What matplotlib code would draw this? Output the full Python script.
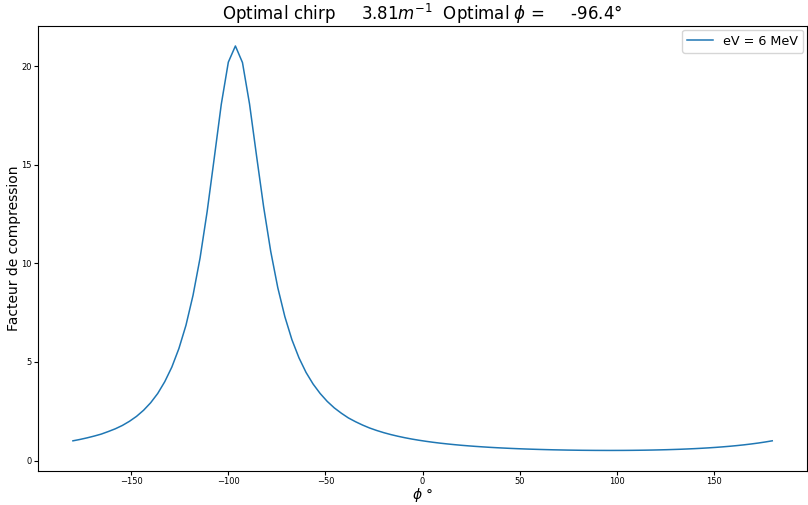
import numpy as np
import matplotlib
matplotlib.use('Agg')
import matplotlib.pyplot as plt

# phase grid (100 points from -180 to 180 deg)
phi = np.linspace(-180, 180, 100)

# compression factor
compression = [
    1.00, 1.07, 1.15, 1.24, 1.34, 1.47, 1.61, 1.78, 1.99, 2.24,
    2.55, 2.93, 3.40, 4.00, 4.74, 5.68, 6.86, 8.38, 10.28, 12.63,
    15.33, 18.07, 20.21, 21.03, 20.19, 18.09, 15.44, 12.86, 10.61, 8.77,
    7.30, 6.13, 5.21, 4.47, 3.88, 3.40, 3.00, 2.67, 2.40, 2.16,
    1.97, 1.80, 1.65, 1.525, 1.414, 1.317, 1.232, 1.156, 1.088, 1.028,
    0.974, 0.925, 0.881, 0.842, 0.806, 0.773, 0.744, 0.717, 0.693, 0.670,
    0.650, 0.632, 0.615, 0.600, 0.586, 0.574, 0.563, 0.553, 0.544, 0.537,
    0.530, 0.525, 0.520, 0.517, 0.514, 0.513, 0.512, 0.513, 0.514, 0.517,
    0.521, 0.526, 0.532, 0.540, 0.549, 0.560, 0.572, 0.587, 0.603, 0.622,
    0.643, 0.667, 0.694, 0.724, 0.758, 0.796, 0.839, 0.886, 0.940, 1.00,
]

chirp_opt = 3.81
phi_opt = -96.4
label = 'eV = 6 MeV'

fig = plt.figure(figsize=(8.08, 5.05), dpi=100)
ax = fig.add_axes([0.047, 0.068, 0.952, 0.881])

ax.plot(phi, compression, color='#1f77b4', linewidth=1.1, label=label)

ax.set_title(f'Optimal chirp     {chirp_opt}$m^{{-1}}$  Optimal $\\phi$ =     {phi_opt}°', fontsize=12, pad=4)
ax.set_xlabel('$\\phi$ °', fontsize=10, labelpad=0)
ax.set_ylabel('Facteur de compression', fontsize=10, labelpad=0)
ax.tick_params(labelsize=6, length=3, pad=1.5)
ax.set_yticks([0, 5, 10, 15, 20])
ax.legend(loc='upper right', fontsize=9.2, borderaxespad=0.3)

fig.savefig('out.png', dpi=100)
